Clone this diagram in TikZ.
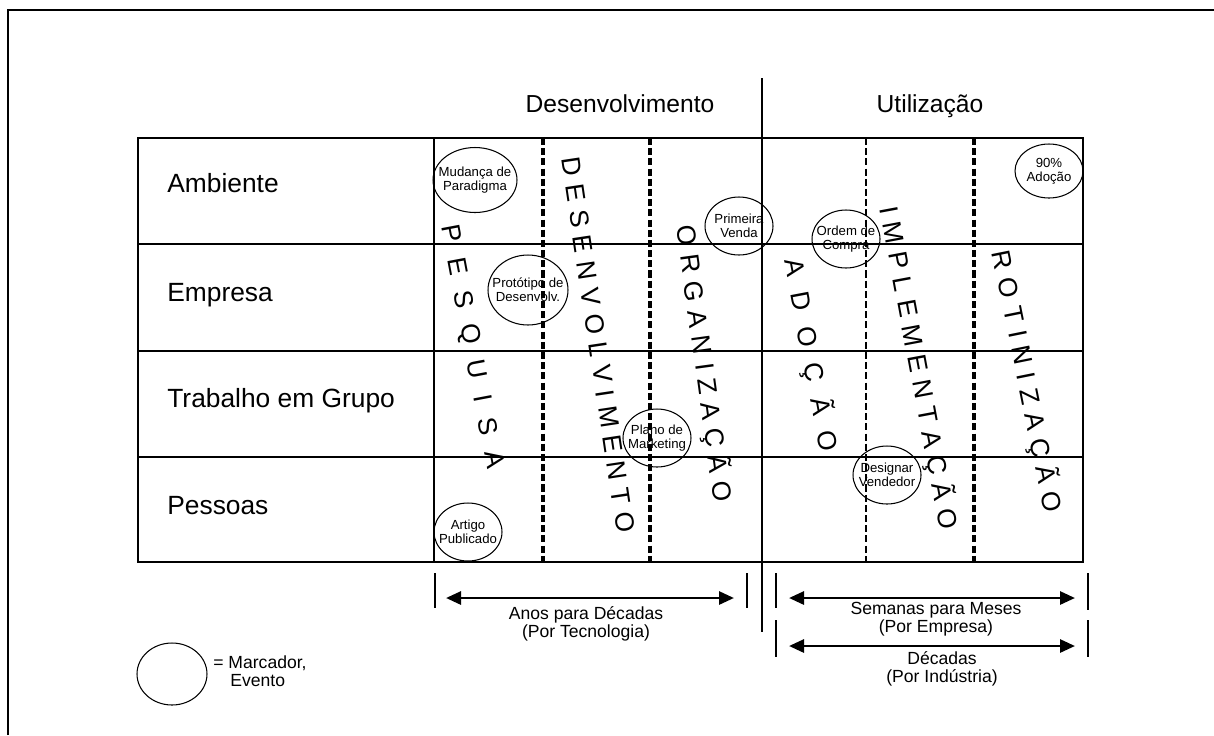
\documentclass[tikz,border=0pt]{standalone}
\usepackage{fontspec}
\setmainfont{Liberation Sans}
\usetikzlibrary{arrows.meta,shapes.geometric}

\begin{document}
\begin{tikzpicture}[
    x=0.02cm, y=-0.02cm,
    border/.style={line width=1.2pt},
    tbl/.style={line width=0.8pt},
    phase/.style={line width=2pt, dash pattern=on 4pt off 1.8pt},
    thinphase/.style={line width=1.2pt, dash pattern=on 4pt off 1.8pt},
    rowlbl/.style={anchor=base west, inner sep=0pt, font=\fontsize{15}{18}\selectfont},
    hdr/.style={anchor=base, inner sep=0pt, font=\fontsize{14}{16}\selectfont},
    vword/.style={inner sep=0pt, text height=10.7pt, text depth=0pt,
                  font=\fontsize{15}{15}\selectfont},
    marker/.style={draw, ellipse, line width=0.6pt, minimum width=1.36cm,
                   minimum height=1.16cm, inner sep=0pt},
    mtext/.style={align=center, inner sep=0pt, font=\fontsize{7.5}{8}\selectfont},
    dur/.style={{Triangle[length=0.3cm,width=0.26cm]}-{Triangle[length=0.3cm,width=0.26cm]},
                line width=1.6pt},
    tick/.style={line width=0.8pt},
    thicktick/.style={line width=1.6pt},
    durlbl/.style={align=center, inner sep=0pt, font=\fontsize{10}{10}\selectfont}
]
    \useasboundingbox (0,0) rectangle (1214,735);

    % Frame
    \draw[border] (8,735) -- (8,10) -- (1214,10);

    % Table
    \draw[tbl] (138,138) rectangle (1083,562);
    \foreach \y in {244,351,457}
        \draw[tbl] (138,\y) -- (1083,\y);
    \draw[tbl] (434,138) -- (434,562);
    \draw[tbl] (762,78) -- (762,632);
    \draw[phase] (543,138) -- (543,562);
    \draw[phase] (650,138) -- (650,562);
    \draw[thinphase] (866,138) -- (866,562);
    \draw[phase] (974,138) -- (974,562);

    % Headings
    \node[hdr] (desenv) at (620,112) {Desenvolvimento};
    \node[hdr] (utiliz) at (930,112) {Utilização};

    % Rows
    \node[rowlbl] (ambiente) at (167,192) {Ambiente};
    \node[rowlbl] (empresa) at (167,301) {Empresa};
    \node[rowlbl] (trabalho) at (167,407) {Trabalho em Grupo};
    \node[rowlbl] (pessoas) at (167,514) {Pessoas};

    % Phases (vertical words)
    \node[vword, rotate=-79.3] (pesquisa) at (473.5,346.5) {\spaceskip=9.2pt\relax P E S Q U I S A};
    \node[vword, rotate=-81.5] (desenvolvimento) at (598.5,345) {\spaceskip=4.7pt\relax D E S E N V O L V I M E N T O};
    \node[vword, rotate=-82.2] (organizacao) at (704.5,363.5) {\spaceskip=4.8pt\relax O R G A N I Z A Ç Ã O};
    \node[vword, rotate=-79.3] (adocao) at (811.5,355) {\spaceskip=9.3pt\relax A D O Ç Ã O};
    \node[vword, rotate=-79.4] (implementacao) at (919,367.5) {\spaceskip=4.7pt\relax I M P L E M E N T A Ç Ã O};
    \node[vword, rotate=-78.6] (rotinizacao) at (1027.5,381) {\spaceskip=4.9pt\relax R O T I N I Z A Ç Ã O};

    % Markers
    \node[marker, minimum width=1.68cm, minimum height=1.3cm,
          label={[mtext]center:Mudança de\\Paradigma}] (mudanca) at (475,180) {};
    \node[marker, minimum width=1.6cm, minimum height=1.4cm,
          label={[mtext]center:Protótipo de\\Desenvolv.}] (prototipo) at (528,290) {};
    \node[marker, label={[mtext]center:Primeira\\Venda}] (primeira) at (739,226) {};
    \node[marker, label={[mtext]center:Ordem de\\Compra}] (ordem) at (846,239) {};
    \node[marker, minimum height=1.08cm,
          label={[mtext]center:90\%\\Adoção}] (noventa) at (1049,171) {};
    \node[marker, label={[mtext]center:Plano de\\Marketing}] (plano) at (657,438) {};
    \node[marker, label={[mtext]center:Artigo\\Publicado}] (artigo) at (468,532) {};
    \node[marker, label={[mtext]center:Designar\\Vendedor}] (designar) at (887,475) {};

    % Durations
    \coordinate (anosL) at (446,598);
    \coordinate (anosR) at (734,598);
    \coordinate (semL) at (789,598);
    \coordinate (semR) at (1075,598);
    \coordinate (decL) at (789,646);
    \coordinate (decR) at (1075,646);
    \draw[dur] (anosL) -- (anosR);
    \draw[dur] (semL) -- (semR);
    \draw[dur] (decL) -- (decR);
    \draw[tick] (435,573) -- (435,608);
    \draw[thicktick] (747,573) -- (747,608);
    \draw[thicktick] (776,573) -- (776,608);
    \draw[thicktick] (776,620) -- (776,657);
    \draw[tick] (1088,573) -- (1088,610);
    \draw[tick] (1088,620) -- (1088,657);
    \node[durlbl] (anos) at (586,624) {Anos para Décadas\\(Por Tecnologia)};
    \node[durlbl] (semanas) at (936,619) {Semanas para Meses\\(Por Empresa)};
    \node[durlbl] (decadas) at (942,669) {Décadas\\(Por Indústria)};

    % Legend
    \node[marker, minimum width=1.4cm, minimum height=1.24cm] (legmark) at (172,674) {};
    \node[anchor=west, align=left, inner sep=0pt, font=\fontsize{10}{10.2}\selectfont]
        (legtext) at (213,671) {= Marcador,\\\hspace*{0.34cm}Evento};
\end{tikzpicture}
\end{document}
